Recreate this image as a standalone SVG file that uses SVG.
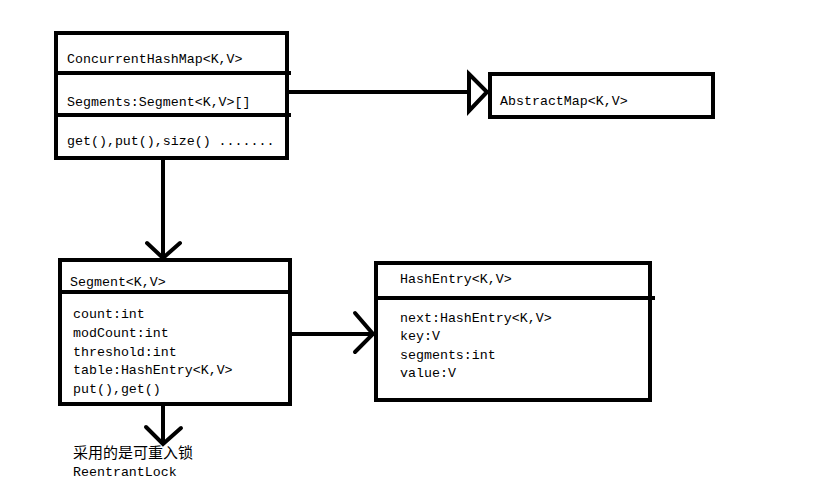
<svg xmlns="http://www.w3.org/2000/svg" width="829" height="497" viewBox="0 0 829 497">
<style>
.box{fill:#fff;stroke:#000;stroke-width:4}
.ln{stroke:#000;stroke-width:4;fill:none;stroke-linecap:butt}
.head{stroke:#000;stroke-width:4;fill:none;stroke-linecap:round;stroke-linejoin:miter}
text{font-family:"Liberation Mono","DejaVu Sans Mono",monospace;font-size:13.3px;fill:#000}
.cjk{font-family:"Noto Sans CJK SC","Noto Sans CJK JP",sans-serif;font-size:15px}
</style>
<rect width="829" height="497" fill="#fff"/>
<g id="connectors">
<line class="ln" x1="288" y1="92" x2="470" y2="92"/>
<polygon class="head" points="469,74 487,92 469,111"/>
<line class="ln" x1="163" y1="158" x2="163" y2="256"/>
<polyline class="head" points="147,243 163,258 180,243"/>
<line class="ln" x1="290" y1="334" x2="371" y2="334"/>
<polyline class="head" points="355,313 373,334 355,352"/>
<line class="ln" x1="163" y1="404" x2="163" y2="442"/>
<polyline class="head" points="146,427 163,444 181,428"/>
</g>
<g id="ConcurrentHashMap">
<rect class="box" x="56" y="33" width="231" height="125"/>
<line class="ln" x1="56" y1="73" x2="291" y2="73"/>
<line class="ln" x1="56" y1="115" x2="291" y2="115"/>
<text x="67" y="63">ConcurrentHashMap&lt;K,V&gt;</text>
<text x="67" y="106">Segments:Segment&lt;K,V&gt;[]</text>
<text x="67" y="145">get(),put(),size() .......</text>
</g>
<g id="AbstractMap">
<rect class="box" x="490" y="74" width="223" height="43"/>
<text x="500" y="105">AbstractMap&lt;K,V&gt;</text>
</g>
<g id="Segment">
<rect class="box" x="60" y="260" width="230" height="144"/>
<line class="ln" x1="60" y1="292" x2="290" y2="292"/>
<text x="70" y="286">Segment&lt;K,V&gt;</text>
<text x="73" y="318">count:int</text>
<text x="73" y="337">modCount:int</text>
<text x="73" y="356">threshold:int</text>
<text x="73" y="374">table:HashEntry&lt;K,V&gt;</text>
<text x="73" y="393">put(),get()</text>
</g>
<g id="HashEntry">
<rect class="box" x="376" y="263" width="274" height="137"/>
<line class="ln" x1="376" y1="298" x2="655" y2="298"/>
<text x="400" y="283">HashEntry&lt;K,V&gt;</text>
<text x="400" y="322">next:HashEntry&lt;K,V&gt;</text>
<text x="400" y="340">key:V</text>
<text x="400" y="359">segments:int</text>
<text x="400" y="377">value:V</text>
</g>
<g id="lock-note">
<text class="cjk" x="73" y="458">采用的是可重入锁</text>
<text x="73" y="476">ReentrantLock</text>
</g>
</svg>
